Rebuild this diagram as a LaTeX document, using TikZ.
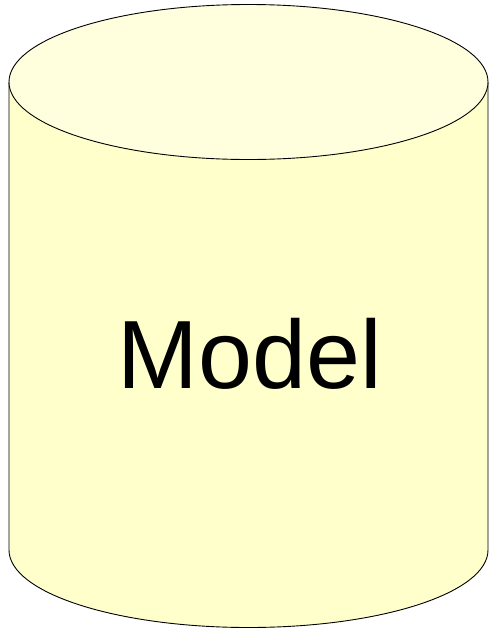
\documentclass[tikz,border=0pt]{standalone}
\usepackage{fontspec}
\setmainfont{Liberation Sans}
\usepackage{xcolor}
\definecolor{bodyyellow}{HTML}{FFFFCC}
\definecolor{topyellow}{HTML}{FFFFDD}

\begin{document}
\begin{tikzpicture}[
  x=1pt, y=-1pt,
  outline/.style={draw=black, line width=0.9pt},
  label/.style={font=\fontsize{97}{100}\selectfont, text=black, anchor=base},
]
  \useasboundingbox (0,0) rectangle (488,630);

  % Cylinder body
  \fill[bodyyellow] (9,82) -- (9,550) arc[start angle=180, end angle=0, x radius=239.5, y radius=77.5]
    -- (488,82) -- cycle;
  \draw[outline] (9,82) -- (9,550) arc[start angle=180, end angle=0, x radius=239.5, y radius=77.5]
    -- (488,82);

  % Top ellipse
  \draw[outline, fill=topyellow] (248.5,82) ellipse[x radius=239.5, y radius=77.5];

  % Label
  \node[label] (model) at (250,388) {Model};

\end{tikzpicture}
\end{document}
